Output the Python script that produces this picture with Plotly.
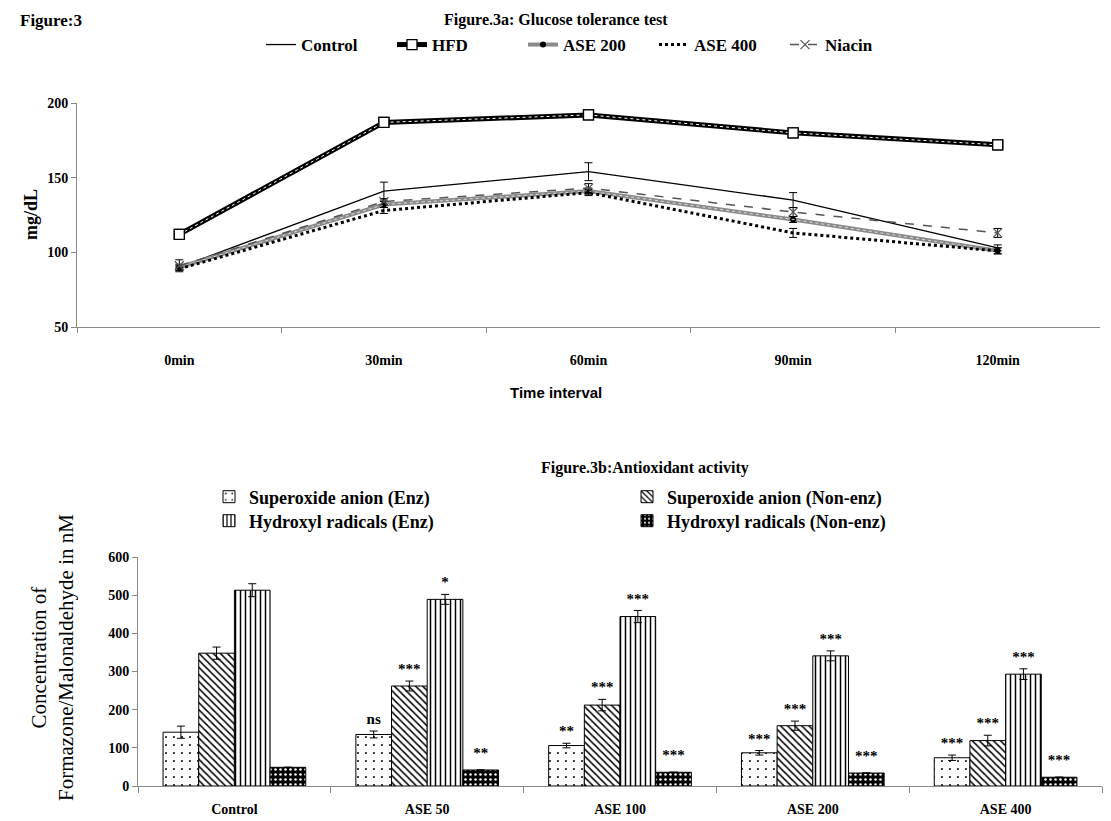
import plotly.graph_objects as go

# ---------------- Data: Figure 3a (Glucose tolerance test) ----------------
time_labels = ["0min", "30min", "60min", "90min", "120min"]
control = [90, 141, 154, 135, 103]
control_err = [2, 6, 6, 5, 2]
hfd = [112, 187, 192, 180, 172]
hfd_err = [1, 1, 1, 2, 1]
ase200 = [90, 132, 141, 122, 101]
ase200_err = [1, 2, 2, 2, 2]
ase400 = [89, 128, 140, 113, 101]
ase400_err = [1, 2, 2, 3, 2]
niacin = [91, 134, 143, 127, 113]
niacin_err = [4, 2, 3, 3, 3]

# ---------------- Data: Figure 3b (Antioxidant activity) ----------------
groups = ["Control", "ASE 50", "ASE 100", "ASE 200", "ASE 400"]
series_names = ["Superoxide anion (Enz)", "Superoxide anion (Non-enz)",
                "Hydroxyl radicals (Enz)", "Hydroxyl radicals (Non-enz)"]
sup_enz = [141, 135, 106, 87, 74]
sup_enz_err = [16, 9, 6, 6, 7]
sup_non = [348, 262, 212, 158, 119]
sup_non_err = [16, 13, 15, 12, 14]
hyd_enz = [513, 489, 444, 341, 293]
hyd_enz_err = [17, 13, 16, 13, 14]
hyd_non = [49, 42, 36, 34, 23]
hyd_non_err = [0, 0, 0, 0, 0]
sup_enz_sig = ["", "ns", "**", "***", "***"]
sup_non_sig = ["", "***", "***", "***", "***"]
hyd_enz_sig = ["", "*", "***", "***", "***"]
hyd_non_sig = ["", "**", "***", "***", "***"]

W, H = 1111, 821
SERIF = "Liberation Serif"


def px(x):
    return x / W


def py(y):
    return 1 - y / H


fig = go.Figure()


def err(arr, w=4):
    return dict(type="data", array=arr, color="black", thickness=1, width=w, visible=True)


# ---- top chart traces ----
fig.add_trace(go.Scatter(x=time_labels, y=control, name="Control", mode="lines",
                         line=dict(color="black", width=1.3), error_y=err(control_err),
                         xaxis="x", yaxis="y", legend="legend"))
fig.add_trace(go.Scatter(x=time_labels, y=hfd, name="HFD", mode="lines+markers",
                         line=dict(color="black", width=5),
                         marker=dict(symbol="square", size=10, color="white",
                                     line=dict(color="black", width=1.3)),
                         error_y=err(hfd_err), xaxis="x", yaxis="y", legend="legend"))
fig.add_trace(go.Scatter(x=time_labels, y=hfd, mode="lines", showlegend=False, hoverinfo="skip",
                         line=dict(color="white", width=1, dash="dot"), xaxis="x", yaxis="y"))
fig.add_trace(go.Scatter(x=time_labels, y=hfd, mode="markers", showlegend=False, hoverinfo="skip",
                         marker=dict(symbol="square", size=10, color="white",
                                     line=dict(color="black", width=1.3)),
                         xaxis="x", yaxis="y"))
fig.add_trace(go.Scatter(x=time_labels, y=ase200, name="ASE 200", mode="lines+markers",
                         line=dict(color="#8a8a8a", width=4),
                         marker=dict(symbol="circle", size=6, color="black"),
                         error_y=err(ase200_err), xaxis="x", yaxis="y", legend="legend"))
fig.add_trace(go.Scatter(x=time_labels, y=ase200, mode="lines", showlegend=False, hoverinfo="skip",
                         line=dict(color="#dcdcdc", width=1, dash="dot"), xaxis="x", yaxis="y"))
fig.add_trace(go.Scatter(x=time_labels, y=ase400, name="ASE 400", mode="lines",
                         line=dict(color="black", width=3, dash="dot"),
                         error_y=err(ase400_err), xaxis="x", yaxis="y", legend="legend"))
fig.add_trace(go.Scatter(x=time_labels, y=niacin, name="Niacin", mode="lines+markers",
                         line=dict(color="#555555", width=1.5, dash="dash"),
                         marker=dict(symbol="x-thin", size=9, color="#555555",
                                     line=dict(color="#555555", width=1.2)),
                         error_y=err(niacin_err), xaxis="x", yaxis="y", legend="legend"))

# ---- bottom chart traces ----
bar_series = [sup_enz, sup_non, hyd_enz, hyd_non]
bar_errs = [sup_enz_err, sup_non_err, hyd_enz_err, hyd_non_err]
bar_sigs = [sup_enz_sig, sup_non_sig, hyd_enz_sig, hyd_non_sig]
patterns = [
    dict(shape=".", fgcolor="black", bgcolor="white", size=8, solidity=0.05, fillmode="replace"),
    dict(shape="\\", fgcolor="black", bgcolor="white", size=5, solidity=0.3, fillmode="replace"),
    dict(shape="|", fgcolor="black", bgcolor="white", size=5, solidity=0.3, fillmode="replace"),
    dict(shape=".", fgcolor="white", bgcolor="black", size=5, solidity=0.2, fillmode="replace"),
]
legend_of = ["legend2", "legend2", "legend3", "legend3"]
group_w = 0.74
bar_w = group_w / 4
for k in range(4):
    xs = [i - group_w / 2 + bar_w * (k + 0.5) for i in range(len(groups))]
    errs = bar_errs[k]
    fig.add_trace(go.Bar(x=xs, y=bar_series[k], width=bar_w, name=series_names[k],
                         marker=dict(color="white" if k < 3 else "black",
                                     line=dict(color="black", width=1), pattern=patterns[k]),
                         error_y=dict(type="data", array=errs, color="black", thickness=1, width=4,
                                      visible=True),
                         xaxis="x2", yaxis="y2", legend=legend_of[k]))
    ys = [v + e + (28 if e > 0 else 42) for v, e in zip(bar_series[k], errs)]
    fig.add_trace(go.Scatter(x=xs, y=ys, mode="text", text=bar_sigs[k], showlegend=False,
                             textfont=dict(family=SERIF, size=15, color="black", weight="bold"),
                             hoverinfo="skip", xaxis="x2", yaxis="y2"))

tickfont = dict(family=SERIF, size=14, color="black", weight="bold")

fig.update_layout(
    width=W, height=H,
    margin=dict(l=0, r=0, t=0, b=0, autoexpand=False),
    paper_bgcolor="white", plot_bgcolor="white",
    barmode="overlay",
    xaxis=dict(domain=[px(77), px(1100)], type="category", range=[-0.5, 4.5], anchor="y",
               tickson="boundaries", ticks="outside", ticklen=5, tickcolor="#888",
               showline=True, linecolor="#888", linewidth=1, showgrid=False, zeroline=False,
               tickfont=tickfont, ticklabelstandoff=20, automargin=False),
    yaxis=dict(domain=[py(327), py(103)], range=[50, 200], dtick=50, ticks="outside", ticklen=5,
               anchor="x", tickcolor="#888", showline=True, linecolor="#888", linewidth=1,
               showgrid=False, zeroline=False, tickfont=tickfont, automargin=False),
    xaxis2=dict(domain=[px(138), px(1102)], range=[-0.5, 4.5], tickmode="array", anchor="y2",
                tickvals=list(range(len(groups))), ticktext=groups, ticks="", showline=True,
                linecolor="#888", linewidth=1, showgrid=False, zeroline=False, tickfont=tickfont,
                ticklabelstandoff=10, automargin=False,
                minor=dict(tickmode="linear", tick0=-0.5, dtick=1, ticks="outside", ticklen=6,
                           tickcolor="#888", showgrid=False)),
    yaxis2=dict(domain=[py(786), py(557)], range=[0, 600], dtick=100, ticks="outside", ticklen=5,
                anchor="x2", tickcolor="#888", showline=True, linecolor="#888", linewidth=1,
                showgrid=False, zeroline=False, tickfont=tickfont, automargin=False),
    legend=dict(orientation="h", x=px(261), xanchor="left", y=py(45), yanchor="middle",
                font=dict(family=SERIF, size=17, color="black", weight="bold"),
                bgcolor="rgba(0,0,0,0)", itemwidth=30, tracegroupgap=0,
                entrywidth=86, entrywidthmode="pixels"),
    legend2=dict(orientation="h", x=px(209), xanchor="left", y=py(497), yanchor="middle",
                 font=dict(family=SERIF, size=18, color="black", weight="bold"),
                 entrywidth=373, entrywidthmode="pixels", itemwidth=30,
                 bgcolor="rgba(0,0,0,0)"),
    legend3=dict(orientation="h", x=px(209), xanchor="left", y=py(521), yanchor="middle",
                 font=dict(family=SERIF, size=18, color="black", weight="bold"),
                 entrywidth=373, entrywidthmode="pixels", itemwidth=30,
                 bgcolor="rgba(0,0,0,0)"),
    showlegend=True,
)

annotations = [
    dict(text="Figure:3", x=px(18), y=py(20), xanchor="left", yanchor="middle",
         font=dict(family=SERIF, size=17, color="black", weight="bold")),
    dict(text="Figure.3a: Glucose tolerance test", x=0.5, y=py(20), xanchor="center",
         yanchor="middle", font=dict(family=SERIF, size=16, color="black", weight="bold")),
    dict(text="mg/dL", x=px(31), y=py(215), textangle=-90, xanchor="center", yanchor="middle",
         font=dict(family=SERIF, size=18, color="black", weight="bold")),
    dict(text="Time interval", x=px(556), y=py(392), xanchor="center", yanchor="middle",
         font=dict(family="Liberation Sans", size=15, color="black", weight="bold")),
    dict(text="Figure.3b:Antioxidant activity", x=px(645), y=py(468), xanchor="center",
         yanchor="middle", font=dict(family=SERIF, size=16, color="black", weight="bold")),
    dict(text="Concentration of<br>Formazone/Malonaldehyde in nM", x=px(52), y=py(658),
         textangle=-90, xanchor="center", yanchor="middle",
         font=dict(family=SERIF, size=21, color="black")),
]
for a in annotations:
    a.update(xref="paper", yref="paper", showarrow=False)
fig.update_layout(annotations=annotations)

fig.write_html("out.html", config={"displayModeBar": False},
               post_script="document.body.style.margin='0';document.body.style.padding='0';")
